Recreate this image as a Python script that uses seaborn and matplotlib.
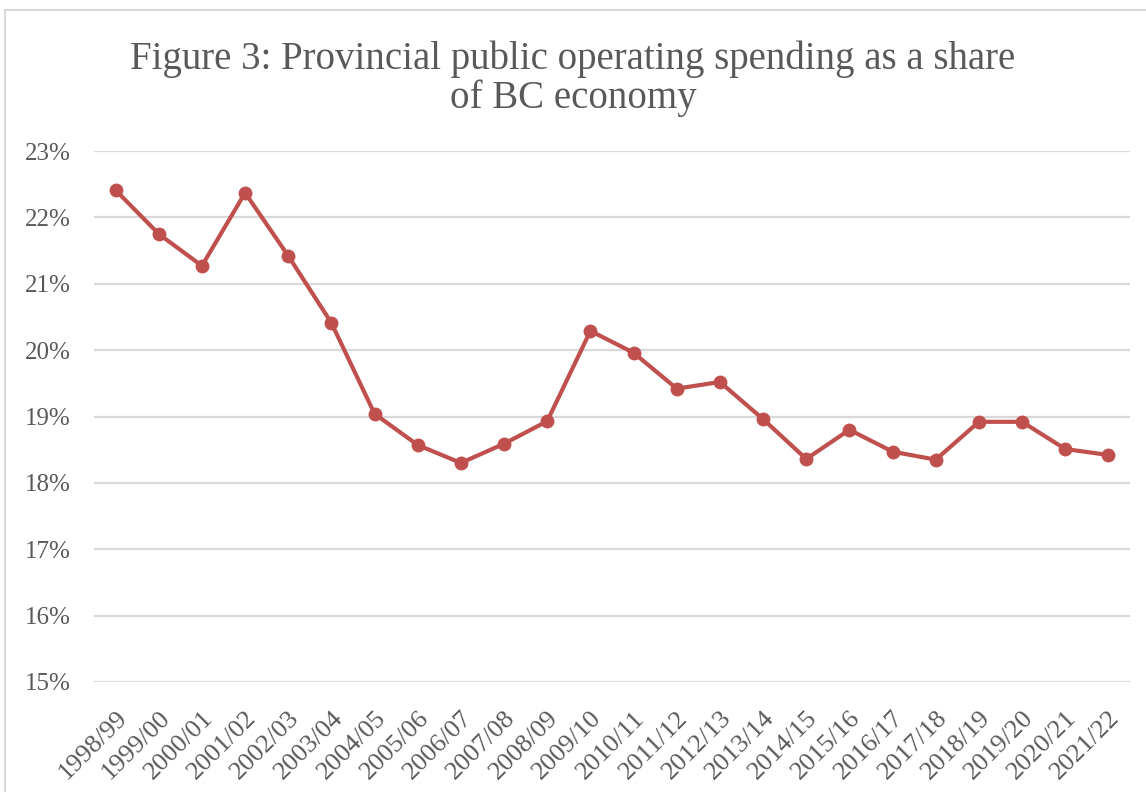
import matplotlib
matplotlib.use("Agg")
import matplotlib.pyplot as plt
import seaborn as sns
import pandas as pd
from matplotlib.patches import Rectangle
from matplotlib.ticker import FuncFormatter

years = ["1998/99", "1999/00", "2000/01", "2001/02", "2002/03", "2003/04",
         "2004/05", "2005/06", "2006/07", "2007/08", "2008/09", "2009/10",
         "2010/11", "2011/12", "2012/13", "2013/14", "2014/15", "2015/16",
         "2016/17", "2017/18", "2018/19", "2019/20", "2020/21", "2021/22"]
share = [22.41, 21.75, 21.27, 22.37, 21.42, 20.41, 19.04, 18.57, 18.30, 18.59,
         18.93, 20.29, 19.96, 19.42, 19.52, 18.96, 18.36, 18.80, 18.47, 18.35,
         18.92, 18.92, 18.51, 18.42]
yticks = [15, 16, 17, 18, 19, 20, 21, 22, 23]

sns.set_style("white")
plt.rcParams["font.family"] = ["Liberation Serif", "DejaVu Serif"]

fig = plt.figure(figsize=(11.46, 7.92), dpi=100)
ax = fig.add_axes([94 / 1146, 1 - 682 / 792, (1130 - 94) / 1146, (682 - 151) / 792])

df = pd.DataFrame({"year": years, "share": share, "pos": range(len(years))})
sns.lineplot(data=df, x="pos", y="share", ax=ax, color="#C0504D", linewidth=3.0,
             marker="o", markersize=10, markeredgewidth=0, zorder=3)

ax.set_xlim(-0.5, len(years) - 0.5)
ax.set_ylim(15, 23)
ax.set_yticks(yticks)
ax.yaxis.set_major_formatter(FuncFormatter(lambda v, p: f"{v:.0f}%"))
ax.set_xticks(range(len(years)))
ax.set_xticklabels(years, rotation=45, ha="right", rotation_mode="anchor")
ax.grid(axis="y", color="#D9D9D9", linewidth=1.6)
ax.set_axisbelow(True)
for s in ax.spines.values():
    s.set_visible(False)
ax.tick_params(axis="both", length=0, colors="#595959")
ax.tick_params(axis="x", pad=18, labelsize=19)
ax.tick_params(axis="y", pad=17, labelsize=18)
ax.set_xlabel("")
ax.set_ylabel("")

fig.text(0.5, 1 - 108 / 792, "Figure 3: Provincial public operating spending as a share\nof BC economy",
         ha="center", va="baseline", fontsize=28, color="#595959", linespacing=1.05)

fig.patches.append(Rectangle((5 / 1146, -0.1), 1.2, 1 - 10 / 792 + 0.1, transform=fig.transFigure,
                             fill=False, edgecolor="#D9D9D9", linewidth=1.5))

fig.savefig("out.png", dpi=100)
